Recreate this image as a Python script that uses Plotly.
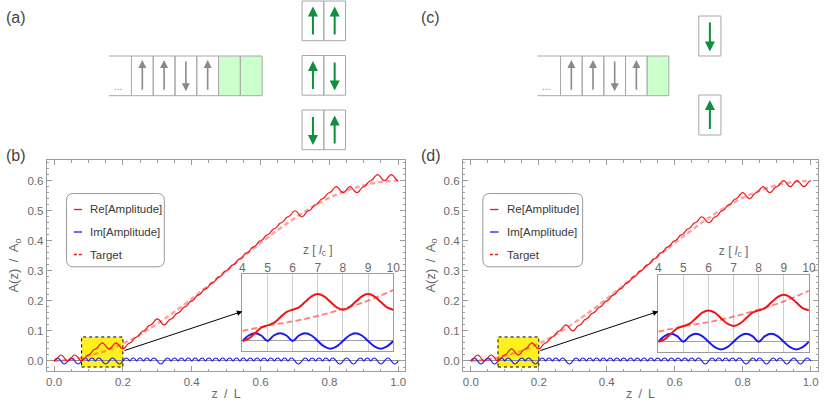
import plotly.graph_objects as go

W, H = 831, 408
FONT = "Liberation Sans"

# ---------------- data ----------------
# main curves, sampled every quarter coherence length (z/L step 0.005)
z_over_L = [round(0.005 * i, 3) for i in range(201)]

re_b = [0.000, 0.003, 0.010, 0.017, 0.020, 0.017, 0.010, 0.003,
        0.000, 0.003, 0.010, 0.017, 0.020, 0.017, 0.010, 0.003,
        0.000, 0.003, 0.010, 0.017, 0.020, 0.023, 0.030, 0.037,
        0.040, 0.043, 0.050, 0.057, 0.060, 0.057, 0.050, 0.043,
        0.040, 0.043, 0.050, 0.057, 0.060, 0.057, 0.050, 0.043,
        0.040, 0.043, 0.050, 0.057, 0.060, 0.063, 0.070, 0.077,
        0.080, 0.083, 0.090, 0.097, 0.100, 0.103, 0.110, 0.117,
        0.120, 0.123, 0.130, 0.137, 0.140, 0.137, 0.130, 0.123,
        0.120, 0.123, 0.130, 0.137, 0.140, 0.143, 0.150, 0.157,
        0.160, 0.163, 0.170, 0.177, 0.180, 0.183, 0.190, 0.197,
        0.200, 0.203, 0.210, 0.217, 0.220, 0.223, 0.230, 0.237,
        0.240, 0.243, 0.250, 0.257, 0.260, 0.263, 0.270, 0.277,
        0.280, 0.283, 0.290, 0.297, 0.300, 0.303, 0.310, 0.317,
        0.320, 0.323, 0.330, 0.337, 0.340, 0.343, 0.350, 0.357,
        0.360, 0.363, 0.370, 0.377, 0.380, 0.383, 0.390, 0.397,
        0.400, 0.403, 0.410, 0.417, 0.420, 0.423, 0.430, 0.437,
        0.440, 0.443, 0.450, 0.457, 0.460, 0.463, 0.470, 0.477,
        0.480, 0.483, 0.490, 0.497, 0.500, 0.497, 0.490, 0.483,
        0.480, 0.483, 0.490, 0.497, 0.500, 0.503, 0.510, 0.517,
        0.520, 0.523, 0.530, 0.537, 0.540, 0.543, 0.550, 0.557,
        0.560, 0.563, 0.570, 0.577, 0.580, 0.577, 0.570, 0.563,
        0.560, 0.563, 0.570, 0.577, 0.580, 0.577, 0.570, 0.563,
        0.560, 0.563, 0.570, 0.577, 0.580, 0.583, 0.590, 0.597,
        0.600, 0.603, 0.610, 0.617, 0.620, 0.617, 0.610, 0.603,
        0.600, 0.603, 0.610, 0.617, 0.620, 0.617, 0.610, 0.603,
        0.600]

im_b = [0.000, 0.007, 0.010, 0.007, 0.000, -0.007, -0.010, -0.007,
        0.000, 0.007, 0.010, 0.007, 0.000, -0.007, -0.010, -0.007,
        0.000, 0.007, 0.010, 0.007, 0.000, 0.007, 0.010, 0.007,
        0.000, 0.007, 0.010, 0.007, 0.000, -0.007, -0.010, -0.007,
        0.000, 0.007, 0.010, 0.007, 0.000, -0.007, -0.010, -0.007,
        0.000, 0.007, 0.010, 0.007, 0.000, 0.007, 0.010, 0.007,
        0.000, 0.007, 0.010, 0.007, 0.000, 0.007, 0.010, 0.007,
        0.000, 0.007, 0.010, 0.007, 0.000, -0.007, -0.010, -0.007,
        0.000, 0.007, 0.010, 0.007, 0.000, 0.007, 0.010, 0.007,
        0.000, 0.007, 0.010, 0.007, 0.000, 0.007, 0.010, 0.007,
        0.000, 0.007, 0.010, 0.007, 0.000, 0.007, 0.010, 0.007,
        0.000, 0.007, 0.010, 0.007, 0.000, 0.007, 0.010, 0.007,
        0.000, 0.007, 0.010, 0.007, 0.000, 0.007, 0.010, 0.007,
        0.000, 0.007, 0.010, 0.007, 0.000, 0.007, 0.010, 0.007,
        0.000, 0.007, 0.010, 0.007, 0.000, 0.007, 0.010, 0.007,
        0.000, 0.007, 0.010, 0.007, 0.000, 0.007, 0.010, 0.007,
        0.000, 0.007, 0.010, 0.007, 0.000, 0.007, 0.010, 0.007,
        0.000, 0.007, 0.010, 0.007, 0.000, -0.007, -0.010, -0.007,
        0.000, 0.007, 0.010, 0.007, 0.000, 0.007, 0.010, 0.007,
        0.000, 0.007, 0.010, 0.007, 0.000, 0.007, 0.010, 0.007,
        0.000, 0.007, 0.010, 0.007, 0.000, -0.007, -0.010, -0.007,
        0.000, 0.007, 0.010, 0.007, 0.000, -0.007, -0.010, -0.007,
        0.000, 0.007, 0.010, 0.007, 0.000, 0.007, 0.010, 0.007,
        0.000, 0.007, 0.010, 0.007, 0.000, -0.007, -0.010, -0.007,
        0.000, 0.007, 0.010, 0.007, 0.000, -0.007, -0.010, -0.007,
        0.000]

re_d = [0.000, 0.003, 0.010, 0.017, 0.020, 0.017, 0.010, 0.003,
        0.000, 0.003, 0.010, 0.017, 0.020, 0.017, 0.010, 0.003,
        0.000, 0.003, 0.010, 0.017, 0.020, 0.023, 0.030, 0.037,
        0.040, 0.037, 0.030, 0.023, 0.020, 0.023, 0.030, 0.037,
        0.040, 0.043, 0.050, 0.057, 0.060, 0.057, 0.050, 0.043,
        0.040, 0.043, 0.050, 0.057, 0.060, 0.063, 0.070, 0.077,
        0.080, 0.083, 0.090, 0.097, 0.100, 0.103, 0.110, 0.117,
        0.120, 0.117, 0.110, 0.103, 0.100, 0.103, 0.110, 0.117,
        0.120, 0.123, 0.130, 0.137, 0.140, 0.143, 0.150, 0.157,
        0.160, 0.163, 0.170, 0.177, 0.180, 0.183, 0.190, 0.197,
        0.200, 0.203, 0.210, 0.217, 0.220, 0.223, 0.230, 0.237,
        0.240, 0.243, 0.250, 0.257, 0.260, 0.263, 0.270, 0.277,
        0.280, 0.283, 0.290, 0.297, 0.300, 0.303, 0.310, 0.317,
        0.320, 0.323, 0.330, 0.337, 0.340, 0.343, 0.350, 0.357,
        0.360, 0.363, 0.370, 0.377, 0.380, 0.383, 0.390, 0.397,
        0.400, 0.403, 0.410, 0.417, 0.420, 0.423, 0.430, 0.437,
        0.440, 0.443, 0.450, 0.457, 0.460, 0.463, 0.470, 0.477,
        0.480, 0.477, 0.470, 0.463, 0.460, 0.463, 0.470, 0.477,
        0.480, 0.483, 0.490, 0.497, 0.500, 0.503, 0.510, 0.517,
        0.520, 0.523, 0.530, 0.537, 0.540, 0.543, 0.550, 0.557,
        0.560, 0.557, 0.550, 0.543, 0.540, 0.543, 0.550, 0.557,
        0.560, 0.563, 0.570, 0.577, 0.580, 0.577, 0.570, 0.563,
        0.560, 0.563, 0.570, 0.577, 0.580, 0.583, 0.590, 0.597,
        0.600, 0.597, 0.590, 0.583, 0.580, 0.583, 0.590, 0.597,
        0.600, 0.597, 0.590, 0.583, 0.580, 0.583, 0.590, 0.597,
        0.600]

im_d = [0.000, 0.007, 0.010, 0.007, 0.000, -0.007, -0.010, -0.007,
        0.000, 0.007, 0.010, 0.007, 0.000, -0.007, -0.010, -0.007,
        0.000, 0.007, 0.010, 0.007, 0.000, 0.007, 0.010, 0.007,
        0.000, -0.007, -0.010, -0.007, 0.000, 0.007, 0.010, 0.007,
        0.000, 0.007, 0.010, 0.007, 0.000, -0.007, -0.010, -0.007,
        0.000, 0.007, 0.010, 0.007, 0.000, 0.007, 0.010, 0.007,
        0.000, 0.007, 0.010, 0.007, 0.000, 0.007, 0.010, 0.007,
        0.000, -0.007, -0.010, -0.007, 0.000, 0.007, 0.010, 0.007,
        0.000, 0.007, 0.010, 0.007, 0.000, 0.007, 0.010, 0.007,
        0.000, 0.007, 0.010, 0.007, 0.000, 0.007, 0.010, 0.007,
        0.000, 0.007, 0.010, 0.007, 0.000, 0.007, 0.010, 0.007,
        0.000, 0.007, 0.010, 0.007, 0.000, 0.007, 0.010, 0.007,
        0.000, 0.007, 0.010, 0.007, 0.000, 0.007, 0.010, 0.007,
        0.000, 0.007, 0.010, 0.007, 0.000, 0.007, 0.010, 0.007,
        0.000, 0.007, 0.010, 0.007, 0.000, 0.007, 0.010, 0.007,
        0.000, 0.007, 0.010, 0.007, 0.000, 0.007, 0.010, 0.007,
        0.000, 0.007, 0.010, 0.007, 0.000, 0.007, 0.010, 0.007,
        0.000, -0.007, -0.010, -0.007, 0.000, 0.007, 0.010, 0.007,
        0.000, 0.007, 0.010, 0.007, 0.000, 0.007, 0.010, 0.007,
        0.000, 0.007, 0.010, 0.007, 0.000, 0.007, 0.010, 0.007,
        0.000, -0.007, -0.010, -0.007, 0.000, 0.007, 0.010, 0.007,
        0.000, 0.007, 0.010, 0.007, 0.000, -0.007, -0.010, -0.007,
        0.000, 0.007, 0.010, 0.007, 0.000, 0.007, 0.010, 0.007,
        0.000, -0.007, -0.010, -0.007, 0.000, 0.007, 0.010, 0.007,
        0.000, -0.007, -0.010, -0.007, 0.000, 0.007, 0.010, 0.007,
        0.000]

target_z = [0.00, 0.05, 0.10, 0.15, 0.20, 0.25, 0.30, 0.35, 0.40, 0.45, 0.50,
            0.55, 0.60, 0.65, 0.70, 0.75, 0.80, 0.85, 0.90, 0.95, 1.00]
target_vals = [0.000, 0.005, 0.018, 0.034, 0.058, 0.088, 0.124, 0.164, 0.207, 0.253, 0.300,
               0.347, 0.393, 0.436, 0.476, 0.512, 0.543, 0.567, 0.585, 0.596, 0.600]

# insets, z in units of l_c, sampled every quarter l_c
inset_z = [4.0, 4.25, 4.5, 4.75, 5.0, 5.25, 5.5, 5.75, 6.0, 6.25, 6.5, 6.75, 7.0,
           7.25, 7.5, 7.75, 8.0, 8.25, 8.5, 8.75, 9.0, 9.25, 9.5, 9.75, 10.0]
inset_re_b = [0.000, 0.003, 0.010, 0.017, 0.020, 0.023, 0.030, 0.037, 0.040, 0.043, 0.050, 0.057, 0.060,
              0.057, 0.050, 0.043, 0.040, 0.043, 0.050, 0.057, 0.060, 0.057, 0.050, 0.043, 0.040]
inset_im_b = [0, 0.007, 0.010, 0.007, 0, 0.007, 0.010, 0.007, 0, 0.007, 0.010, 0.007, 0,
              -0.007, -0.010, -0.007, 0, 0.007, 0.010, 0.007, 0, -0.007, -0.010, -0.007, 0]
inset_re_d = [0.000, 0.003, 0.010, 0.017, 0.020, 0.023, 0.030, 0.037, 0.040, 0.037, 0.030, 0.023, 0.020,
              0.023, 0.030, 0.037, 0.040, 0.043, 0.050, 0.057, 0.060, 0.057, 0.050, 0.043, 0.040]
inset_im_d = [0, 0.007, 0.010, 0.007, 0, 0.007, 0.010, 0.007, 0, -0.007, -0.010, -0.007, 0,
              0.007, 0.010, 0.007, 0, 0.007, 0.010, 0.007, 0, -0.007, -0.010, -0.007, 0]
inset_target_z = [4, 5, 6, 7, 8, 9, 10]
inset_target = [0.0128, 0.0195, 0.0250, 0.0320, 0.0410, 0.0515, 0.0650]

x_ticks = [0.0, 0.2, 0.4, 0.6, 0.8, 1.0]
y_ticks = [0.0, 0.1, 0.2, 0.3, 0.4, 0.5, 0.6]
inset_ticks = [4, 5, 6, 7, 8, 9, 10]
legend_labels = ["Re[Amplitude]", "Im[Amplitude]", "Target"]
panel_labels = ["(a)", "(b)", "(c)", "(d)"]
zoom_box = [0.08, 0.20, -0.02, 0.08]   # z/L from, to ; A from, to

chain_spins = ["up", "up", "down", "up"]
options_a = [["up", "up"], ["up", "down"], ["down", "up"]]
options_c = ["down", "up"]
empty_a, empty_c = 2, 1

# ---------------- styling ----------------
RED = "#f21414"
BLUE = "#1a1aef"
TARGET = "rgba(255,70,70,0.5)"
TARGET_IN = "rgba(255,80,80,0.75)"
FRAME = "#9c9c9c"
LABEL = "#6a6a6a"
TEXT = "#3a3a3a"
CELL = "#a8a8a8"
GRAYARROW = "#8a8a8a"
GREEN = "#0d8f3c"
LIGHTGREEN = "#ccffcc"
YELLOW = "#fff01e"
SP = "\u2002"  # wide word space, as in the original typesetting


def fx(x):
    return x / W


def fy(y):
    return 1 - y / H


# axes geometry (pixels)
B_X, D_X = [fx(44.3), fx(407.3)], [fx(465.5), fx(825.0)]
M_Y = [fy(371.0), fy(160.0)]
BI_X, BI_Y = [fx(242.3), fx(395.0)], [fy(351.0), fy(274.3)]
DI_X, DI_Y = [fx(663.3), fx(815.7)], [fy(351.7), fy(275.0)]
B_XR, D_XR = [-0.0212, 1.0209], [-0.0233, 1.0218]
M_YR = [-0.0333, 0.6689]
I_XR, I_YR = [4, 10], [-0.0128, 0.0852]

fig = go.Figure()

panels = [
    dict(re=re_b, im=im_b, xa="x", ya="y", ire=inset_re_b, iim=inset_im_b, ixa="x3", iya="y3"),
    dict(re=re_d, im=im_d, xa="x2", ya="y2", ire=inset_re_d, iim=inset_im_d, ixa="x4", iya="y4"),
]
for p in panels:
    fig.add_trace(go.Scatter(x=target_z, y=target_vals, mode="lines", xaxis=p["xa"], yaxis=p["ya"],
                             line=dict(color=TARGET, width=2.4, dash="5px,3px", shape="spline"),
                             name=legend_labels[2], showlegend=False))
    fig.add_trace(go.Scatter(x=z_over_L, y=p["im"], mode="lines", xaxis=p["xa"], yaxis=p["ya"],
                             line=dict(color=BLUE, width=1.2, shape="spline"),
                             name=legend_labels[1], showlegend=False))
    fig.add_trace(go.Scatter(x=z_over_L, y=p["re"], mode="lines", xaxis=p["xa"], yaxis=p["ya"],
                             line=dict(color=RED, width=1.2, shape="spline"),
                             name=legend_labels[0], showlegend=False))
    fig.add_trace(go.Scatter(x=inset_target_z, y=inset_target, mode="lines", xaxis=p["ixa"], yaxis=p["iya"],
                             line=dict(color=TARGET_IN, width=1.8, dash="6px,3px", shape="spline"),
                             showlegend=False))
    fig.add_trace(go.Scatter(x=inset_z, y=p["iim"], mode="lines", xaxis=p["ixa"], yaxis=p["iya"],
                             line=dict(color=BLUE, width=2.0, shape="spline"), showlegend=False))
    fig.add_trace(go.Scatter(x=inset_z, y=p["ire"], mode="lines", xaxis=p["ixa"], yaxis=p["iya"],
                             line=dict(color=RED, width=2.0, shape="spline"), showlegend=False))


def main_x(domain, rng):
    return dict(domain=domain, range=rng, tickvals=x_ticks, tickformat=".1f",
                showline=True, linecolor=FRAME, linewidth=1, mirror="allticks",
                ticks="inside", ticklen=5, tickcolor=FRAME, tickwidth=1,
                minor=dict(dtick=0.05, ticks="inside", ticklen=2.5, tickcolor=FRAME),
                showgrid=False, zeroline=False,
                tickfont=dict(family=FONT, size=11.5, color=LABEL),
                title=dict(text=f"z{SP}/{SP}L", standoff=2,
                           font=dict(family=FONT, size=12.5, color=LABEL)))


def main_y(domain, anchor):
    return dict(domain=domain, range=M_YR, anchor=anchor, tickvals=y_ticks, tickformat=".1f",
                showline=True, linecolor=FRAME, linewidth=1, mirror="allticks",
                ticks="inside", ticklen=5, tickcolor=FRAME, tickwidth=1,
                minor=dict(dtick=0.02, ticks="inside", ticklen=2.5, tickcolor=FRAME),
                showgrid=False, zeroline=True, zerolinecolor="#8e8e8e", zerolinewidth=1,
                tickfont=dict(family=FONT, size=11.5, color=LABEL),
                title=dict(text=f"A(z){SP}/{SP}A<sub>o</sub>", standoff=5,
                           font=dict(family=FONT, size=13, color=LABEL)))


def inset_x(domain, anchor):
    return dict(domain=domain, range=I_XR, anchor=anchor, side="top", tickvals=inset_ticks,
                showline=True, linecolor=FRAME, linewidth=1, mirror=True, ticks="",
                ticklabelstandoff=-3,
                showgrid=True, gridcolor="#cfcfcf", gridwidth=1, zeroline=False,
                tickfont=dict(family=FONT, size=12, color=LABEL),
                title=dict(text="z [ <i>l</i><sub>c</sub> ]", standoff=3,
                           font=dict(family=FONT, size=12, color=LABEL)))


def inset_y(domain, anchor):
    return dict(domain=domain, range=I_YR, anchor=anchor, showticklabels=False, ticks="",
                showline=True, linecolor=FRAME, linewidth=1, mirror=True, showgrid=False,
                zeroline=True, zerolinecolor="#a0a0a0", zerolinewidth=1)


fig.update_layout(
    width=W, height=H, margin=dict(l=0, r=0, t=0, b=0),
    paper_bgcolor="white", plot_bgcolor="white", showlegend=False,
    font=dict(family=FONT, color=TEXT),
    xaxis=dict(main_x(B_X, B_XR), anchor="y"),
    yaxis=main_y(M_Y, "x"),
    xaxis2=dict(main_x(D_X, D_XR), anchor="y2"),
    yaxis2=main_y(M_Y, "x2"),
    xaxis3=inset_x(BI_X, "y3"),
    yaxis3=inset_y(BI_Y, "x3"),
    xaxis4=inset_x(DI_X, "y4"),
    yaxis4=inset_y(DI_Y, "x4"),
)

shapes, annotations = [], []

# zoom boxes and arrows to the insets
for xa, ya, xdom, xr, idom in [("x", "y", B_X, B_XR, BI_X), ("x2", "y2", D_X, D_XR, DI_X)]:
    shapes.append(dict(type="rect", xref=xa, yref=ya, x0=zoom_box[0], x1=zoom_box[1],
                       y0=zoom_box[2], y1=zoom_box[3], fillcolor=YELLOW, layer="below",
                       line=dict(color="black", width=1, dash="dot")))
    head_x = xr[0] + (idom[0] - xdom[0]) / (xdom[1] - xdom[0]) * (xr[1] - xr[0])
    annotations.append(dict(x=head_x, y=0.165, xref=xa, yref=ya, ax=zoom_box[1], ay=0.033,
                            axref=xa, ayref=ya, text="", showarrow=True, arrowhead=2,
                            arrowsize=1.1, arrowwidth=1, arrowcolor="black"))


def rrect(x0, y0, x1, y1, r):
    X0, X1, Y0, Y1 = fx(x0), fx(x1), fy(y1), fy(y0)
    rx, ry = r / W, r / H
    return (f"M {X0+rx},{Y1} L {X1-rx},{Y1} Q {X1},{Y1} {X1},{Y1-ry} L {X1},{Y0+ry} "
            f"Q {X1},{Y0} {X1-rx},{Y0} L {X0+rx},{Y0} Q {X0},{Y0} {X0},{Y0+ry} "
            f"L {X0},{Y1-ry} Q {X0},{Y1} {X0+rx},{Y1} Z")


# legends (drawn by hand to match the short key lines and rounded frame)
for bx0, bx1, sx0, sx1, tx in [(64.3, 163.3, 71.7, 80.0, 86.5), (485.7, 586.7, 493.0, 501.5, 508.0)]:
    shapes.append(dict(type="path", xref="paper", yref="paper", path=rrect(bx0, 193.5, bx1, 266.8, 7),
                       fillcolor="white", line=dict(color="#9a9a9a", width=1), layer="above"))
    for row, (lab, col, dash) in enumerate(zip(legend_labels, [RED, BLUE, RED],
                                                ["solid", "solid", "3px,2px"])):
        yy = 209.5 + row * 22.5
        shapes.append(dict(type="line", xref="paper", yref="paper", x0=fx(sx0), x1=fx(sx1),
                           y0=fy(yy), y1=fy(yy), line=dict(color=col, width=1.3, dash=dash),
                           layer="above"))
        annotations.append(dict(x=fx(tx), y=fy(yy), xref="paper", yref="paper", text=lab,
                                showarrow=False, xanchor="left", yanchor="middle",
                                font=dict(family=FONT, size=11.5, color=TEXT)))

# panel labels
for lab, (lx, ly) in zip(panel_labels, [(13, 17.5), (13, 155), (433, 18), (433, 155)]):
    annotations.append(dict(x=fx(lx), y=fy(ly), xref="paper", yref="paper", text=lab,
                            showarrow=False, xanchor="center", yanchor="middle",
                            font=dict(family=FONT, size=16, color="#444444")))


# schematic spin chains
def cell(x0, y0, x1, y1, fill="rgba(0,0,0,0)"):
    shapes.append(dict(type="rect", xref="paper", yref="paper", x0=fx(x0), x1=fx(x1),
                       y0=fy(y1), y1=fy(y0), fillcolor=fill, line=dict(color=CELL, width=1),
                       layer="above"))


def spin(xc, top, bottom, direction, color, width):
    head, tail = (top, bottom) if direction == "up" else (bottom, top)
    annotations.append(dict(x=fx(xc), y=fy(head), xref="paper", yref="paper", ax=0, ay=tail - head,
                            axref="pixel", ayref="pixel", text="", showarrow=True, arrowhead=2,
                            arrowsize=1.0, arrowwidth=width, arrowcolor=color))


def chain(x_start, dots_w, cw, top, bottom, spins, n_empty):
    for yy in (top, bottom):
        shapes.append(dict(type="line", xref="paper", yref="paper", x0=fx(x_start), x1=fx(x_start + dots_w),
                           y0=fy(yy), y1=fy(yy), line=dict(color=CELL, width=1), layer="above"))
    annotations.append(dict(x=fx(x_start + 3), y=fy(bottom - 2), xref="paper", yref="paper", text="...",
                            showarrow=False, xanchor="left", yanchor="bottom",
                            font=dict(family=FONT, size=10, color="#8a8a8a")))
    x0 = x_start + dots_w
    for i, s in enumerate(spins):
        cell(x0 + i * cw, top, x0 + (i + 1) * cw, bottom)
        spin(x0 + (i + 0.5) * cw, top + 4, bottom - 4.5, s, GRAYARROW, 1.6)
    for k in range(n_empty):
        i = len(spins) + k
        cell(x0 + i * cw, top, x0 + (i + 1) * cw, bottom, LIGHTGREEN)


chain(107.0, 23.0, 22.05, 56.0, 95.7, chain_spins, empty_a)
chain(541.0, 23.3, 21.94, 56.0, 95.7, chain_spins, empty_c)

for r, pair in enumerate(options_a):
    top = 1.0 + r * 54.5
    for j, s in enumerate(pair):
        cell(302.7 + j * 22.0, top, 302.7 + (j + 1) * 22.0, top + 39.7)
        spin(302.7 + (j + 0.5) * 22.0, top + 5.5, top + 35.0, s, GREEN, 2.0)

for r, s in enumerate(options_c):
    top = 16.0 + r * 79.0
    cell(704.3, top, 726.7, top + 40.0)
    spin(715.5, top + 5.0, top + 35.5, s, GREEN, 2.0)

fig.update_layout(shapes=shapes, annotations=annotations)
fig.write_html("out.html", config={"displayModeBar": False},
               post_script="document.body.style.margin='0px';")
